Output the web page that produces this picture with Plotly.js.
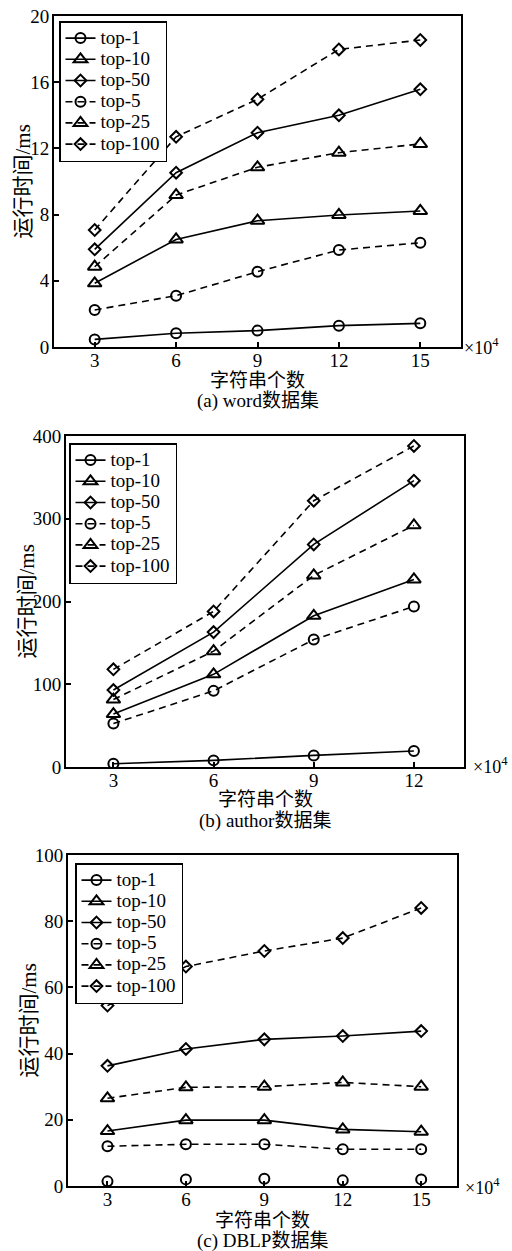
<!DOCTYPE html>
<html>
<head>
<meta charset="utf-8">
<script src="https://cdn.plot.ly/plotly-3.0.1.min.js"></script>
<style>html,body{margin:0;padding:0;background:#fff;}#chart{width:512px;height:1251px;}</style>
</head>
<body>
<div id="chart"></div>
<script>
// ---------- data ----------
const seriesNames = ['top-1', 'top-10', 'top-50', 'top-5', 'top-25', 'top-100'];

const xWord = [3, 6, 9, 12, 15];
const wordTop1   = [0.46, 0.83, 0.99, 1.29, 1.43];
const wordTop10  = [3.85, 6.5, 7.63, 7.98, 8.22];
const wordTop50  = [5.9, 10.53, 12.95, 14.0, 15.57];
const wordTop5   = [2.24, 3.1, 4.55, 5.86, 6.3];
const wordTop25  = [4.85, 9.18, 10.86, 11.74, 12.27];
const wordTop100 = [7.07, 12.7, 14.97, 17.98, 18.55];

const xAuthor = [3, 6, 9, 12];
const authorTop1   = [4, 8, 14, 19.4];
const authorTop10  = [64, 112, 182.7, 226.7];
const authorTop50  = [93, 163, 269, 346];
const authorTop5   = [52.5, 92, 154, 194];
const authorTop25  = [81.5, 140, 231.5, 292];
const authorTop100 = [118, 188, 321.8, 388];

const xDblp = [3, 6, 9, 12, 15];
const dblpTop1   = [1.4, 2.0, 2.2, 1.7, 2.0];
const dblpTop10  = [16.6, 19.9, 19.9, 17.1, 16.4];
const dblpTop50  = [36.3, 41.4, 44.3, 45.3, 46.8];
const dblpTop5   = [12.0, 12.6, 12.6, 11.1, 11.1];
const dblpTop25  = [26.5, 29.8, 30.0, 31.3, 30.0];
const dblpTop100 = [54.5, 66.3, 71.0, 74.9, 84.0];

const yTicksWord = [0, 4, 8, 12, 16, 20];
const yTicksAuthor = [0, 100, 200, 300, 400];
const yTicksDblp = [0, 20, 40, 60, 80, 100];

const yTitle = '运行时间/ms';
const xTitle = '字符串个数';
const subTitles = ['(a) word数据集', '(b) author数据集', '(c) DBLP数据集'];
const xUnit = '×10<sup>4</sup>';

// ---------- styles ----------
const FONT = 'Liberation Serif, Noto Sans CJK SC, serif';
const styles = [
  {symbol: 'circle-open', size: 10, dash: 'solid'},
  {symbol: 'triangle-up-open', size: 12, dash: 'solid'},
  {symbol: 'diamond-open', size: 9, dash: 'solid'},
  {symbol: 'circle-open', size: 10, dash: '7px,5px'},
  {symbol: 'triangle-up-open', size: 12, dash: '7px,5px'},
  {symbol: 'diamond-open', size: 9, dash: '7px,5px'}
];

function mkTrace(i, x, y, k, opts) {
  const s = styles[i];
  const t = {
    x: x, y: y, type: 'scatter', mode: 'lines+markers',
    name: '<span style="font-size:19px">' + seriesNames[i] + '</span>',
    xaxis: k === 1 ? 'x' : 'x' + k,
    yaxis: k === 1 ? 'y' : 'y' + k,
    legend: k === 1 ? 'legend' : 'legend' + k,
    line: {color: '#000', width: 1.6, dash: s.dash},
    marker: {symbol: s.symbol, size: s.size, color: '#000', line: {color: '#000', width: 2}},
    hoverinfo: 'x+y'
  };
  return Object.assign(t, opts || {});
}

const traces = [];
[wordTop1, wordTop10, wordTop50, wordTop5, wordTop25, wordTop100].forEach((y, i) => traces.push(mkTrace(i, xWord, y, 1)));
[authorTop1, authorTop10, authorTop50, authorTop5, authorTop25, authorTop100].forEach((y, i) => traces.push(mkTrace(i, xAuthor, y, 2)));
// DBLP top-1 has no connecting line in the figure: legend-only entry + markers-only trace
traces.push(mkTrace(0, xDblp, xDblp.map(() => null), 3));
traces.push(mkTrace(0, xDblp, dblpTop1, 3, {mode: 'markers', showlegend: false}));
[dblpTop10, dblpTop50, dblpTop5, dblpTop25, dblpTop100].forEach((y, j) => traces.push(mkTrace(j + 1, xDblp, y, 3)));

// ---------- layout ----------
const W = 512, H = 1251;
const px = v => v / W;
const py = v => 1 - v / H;

const panels = [
  {l: 54, r: 461, t: 16, b: 347, xr: [1.5, 16.5], yr: [0, 20], yt: yTicksWord, xt: xWord,
   leg: [59, 21], ytx: 23, xtY: 380, subY: 401, unit: [462, 346]},
  {l: 66, r: 464, t: 436, b: 767, xr: [1.58, 13.5], yr: [0, 400], yt: yTicksAuthor, xt: xAuthor,
   leg: [69, 443], ytx: 26, xtY: 800, subY: 821, unit: [471, 765]},
  {l: 68, r: 457, t: 855, b: 1186, xr: [1.49, 16.37], yr: [0, 100], yt: yTicksDblp, xt: xDblp,
   leg: [75, 863], ytx: 28, xtY: 1220, subY: 1241, unit: [463, 1186]}
];

const layout = {
  width: W, height: H,
  margin: {l: 0, r: 0, t: 0, b: 0},
  paper_bgcolor: '#fff', plot_bgcolor: '#fff',
  font: {family: FONT, color: '#000', size: 19},
  showlegend: true,
  annotations: [],
  hovermode: 'closest'
};

panels.forEach((p, i) => {
  const k = i + 1;
  const xa = k === 1 ? 'xaxis' : 'xaxis' + k;
  const ya = k === 1 ? 'yaxis' : 'yaxis' + k;
  const lg = k === 1 ? 'legend' : 'legend' + k;
  const axCommon = {
    showline: true, linecolor: '#000', linewidth: 2, mirror: true,
    showgrid: false, zeroline: false,
    ticks: 'inside', ticklen: 5, tickwidth: 1.5, tickcolor: '#000',
    tickfont: {family: FONT, size: 19, color: '#000'},
    fixedrange: true
  };
  layout[xa] = Object.assign({}, axCommon, {
    domain: [px(p.l), px(p.r)], range: p.xr, tickmode: 'array', tickvals: p.xt,
    anchor: k === 1 ? 'y' : 'y' + k, ticklabelstandoff: -5
  });
  layout[ya] = Object.assign({}, axCommon, {
    domain: [py(p.b), py(p.t)], range: p.yr, tickmode: 'array', tickvals: p.yt,
    anchor: k === 1 ? 'x' : 'x' + k, ticklabelstandoff: -1
  });
  layout[lg] = {
    x: px(p.leg[0]), y: py(p.leg[1]), xanchor: 'left', yanchor: 'top',
    bgcolor: '#fff', bordercolor: '#000', borderwidth: 1.5,
    font: {family: FONT, size: 14, color: '#000'},
    itemwidth: 30, tracegroupgap: 0
  };
  const cx = px((p.l + p.r) / 2);
  layout.annotations.push(
    {xref: 'paper', yref: 'paper', x: px(p.ytx), y: py((p.t + p.b) / 2), text: yTitle, textangle: -90,
     showarrow: false, xanchor: 'center', yanchor: 'middle', font: {family: FONT, size: 21}},
    {xref: 'paper', yref: 'paper', x: cx, y: py(p.xtY), text: xTitle,
     showarrow: false, xanchor: 'center', yanchor: 'middle', font: {family: FONT, size: 19}},
    {xref: 'paper', yref: 'paper', x: cx, y: py(p.subY), text: subTitles[i],
     showarrow: false, xanchor: 'center', yanchor: 'middle', font: {family: FONT, size: 19}},
    {xref: 'paper', yref: 'paper', x: px(p.unit[0]), y: py(p.unit[1]), text: xUnit,
     showarrow: false, xanchor: 'left', yanchor: 'middle', font: {family: FONT, size: 18}}
  );
});

Plotly.newPlot('chart', traces, layout, {displayModeBar: false});
</script>
</body>
</html>
